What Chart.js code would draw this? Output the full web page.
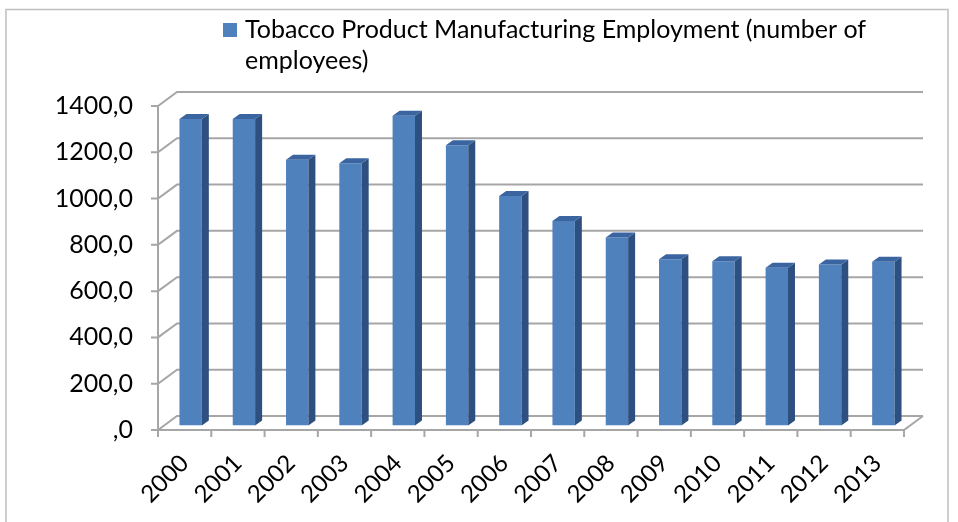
<!DOCTYPE html>
<html>
<head>
<meta charset="utf-8">
<script src="https://cdn.jsdelivr.net/npm/chart.js@4.4.1/dist/chart.umd.min.js"></script>
<style>
  html, body { margin: 0; padding: 0; background: #fff; }
  canvas { display: block; }
</style>
</head>
<body>
<canvas id="tobaccoChart" width="958" height="522"></canvas>
<script>
const years = [
  "2000", "2001", "2002", "2003", "2004", "2005", "2006",
  "2007", "2008", "2009", "2010", "2011", "2012", "2013"
];
const employees = [1324, 1324, 1148, 1133, 1338, 1211, 992, 884, 812, 718, 710, 682, 696, 708];
const seriesLabel = "Tobacco Product Manufacturing Employment (number of employees)";

// back wall offset, bar plane offset and bar depth (px)
const WALL_DX = 19, WALL_DY = 14;
const BAR_DX = 6, BAR_DY = 4.5;
const SIDE_DX = 7, SIDE_DY = 5;
const FONT = "Lato";

const ctx = document.getElementById("tobaccoChart");

const fake3d = {
  id: "fake3d",
  beforeDraw(chart) {
    const c = chart.ctx;
    c.save();
    c.strokeStyle = "#BFBFBF";
    c.lineWidth = 1.5;
    c.strokeRect(6, 9.5, 942, 540);
    c.restore();
  },
  beforeDatasetsDraw(chart) {
    const { ctx: c, chartArea: { left, right, top, bottom }, scales: { x, y } } = chart;
    c.save();
    c.strokeStyle = "#A6A6A6";
    c.lineWidth = 2;
    y.ticks.forEach(t => {
      const py = y.getPixelForValue(t.value);
      c.beginPath();
      c.moveTo(left - 7, py);
      c.lineTo(left, py);
      c.lineTo(left + WALL_DX, py - WALL_DY);
      c.lineTo(right + WALL_DX, py - WALL_DY);
      c.stroke();
    });
    c.beginPath();
    c.moveTo(left, top);
    c.lineTo(left, bottom);
    c.lineTo(right, bottom);
    c.lineTo(right + WALL_DX, bottom - WALL_DY);
    c.stroke();
    for (let i = 0; i <= years.length; i++) {
      const px = x.getPixelForValue(i - 0.5);
      c.beginPath();
      c.moveTo(px, bottom);
      c.lineTo(px, bottom + 7);
      c.stroke();
    }
    c.restore();
    c.save();
    c.translate(BAR_DX, -BAR_DY);
  },
  afterDatasetsDraw(chart) {
    const c = chart.ctx;
    c.restore();
    c.save();
    chart.getDatasetMeta(0).data.forEach(bar => {
      const { x: cx, y: ty, base, width } = bar.getProps(["x", "y", "base", "width"], true);
      const l = cx - width / 2 + BAR_DX, r = cx + width / 2 + BAR_DX;
      const t = ty - BAR_DY, b = base - BAR_DY;
      c.fillStyle = "#2E5080";
      c.beginPath();
      c.moveTo(r, t);
      c.lineTo(r + SIDE_DX, t - SIDE_DY);
      c.lineTo(r + SIDE_DX, b - SIDE_DY);
      c.lineTo(r, b);
      c.closePath();
      c.fill();
      c.fillStyle = "#3A65A0";
      c.beginPath();
      c.moveTo(l, t);
      c.lineTo(l + SIDE_DX, t - SIDE_DY);
      c.lineTo(r + SIDE_DX, t - SIDE_DY);
      c.lineTo(r, t);
      c.closePath();
      c.fill();
    });
    c.restore();
  },
  afterDraw(chart) {
    // legend with the label wrapped over two lines
    const c = chart.ctx;
    c.save();
    c.fillStyle = "#4F81BD";
    c.fillRect(223, 23, 14, 14);
    c.fillStyle = "#000";
    c.font = "25px " + FONT;
    c.textBaseline = "alphabetic";
    const words = chart.data.datasets[0].label.split(" ");
    let lines = [], line = "";
    words.forEach(w => {
      const test = line ? line + " " + w : w;
      if (c.measureText(test).width > 660 && line) { lines.push(line); line = w; }
      else line = test;
    });
    lines.push(line);
    lines.forEach((ln, i) => c.fillText(ln, 245, 38 + i * 31));
    c.restore();
  }
};

const myChart = new Chart(ctx, {
  type: "bar",
  data: {
    labels: years,
    datasets: [{
      label: seriesLabel,
      data: employees,
      backgroundColor: "#4F81BD",
      borderWidth: 0,
      categoryPercentage: 1,
      barPercentage: 0.42
    }]
  },
  plugins: [fake3d],
  options: {
    responsive: false,
    animation: false,
    layout: { padding: { top: 106, right: 54, left: 0, bottom: 0 } },
    plugins: {
      legend: { display: false },
      tooltip: { enabled: false }
    },
    scales: {
      x: {
        grid: { display: false },
        border: { display: false },
        afterFit: s => { s.height = 92; },
        ticks: {
          color: "#000",
          font: { family: FONT, size: 24 },
          minRotation: 45,
          maxRotation: 45,
          padding: 11,
          labelOffset: 0
        }
      },
      y: {
        min: 0,
        max: 1400,
        grid: { display: false },
        border: { display: false },
        afterFit: s => { s.width = 158; },
        ticks: {
          stepSize: 200,
          color: "#000",
          font: { family: FONT, size: 25 },
          padding: 17,
          callback: v => (v === 0 ? ",0" : v + ",0")
        }
      }
    }
  }
});
</script>
</body>
</html>
